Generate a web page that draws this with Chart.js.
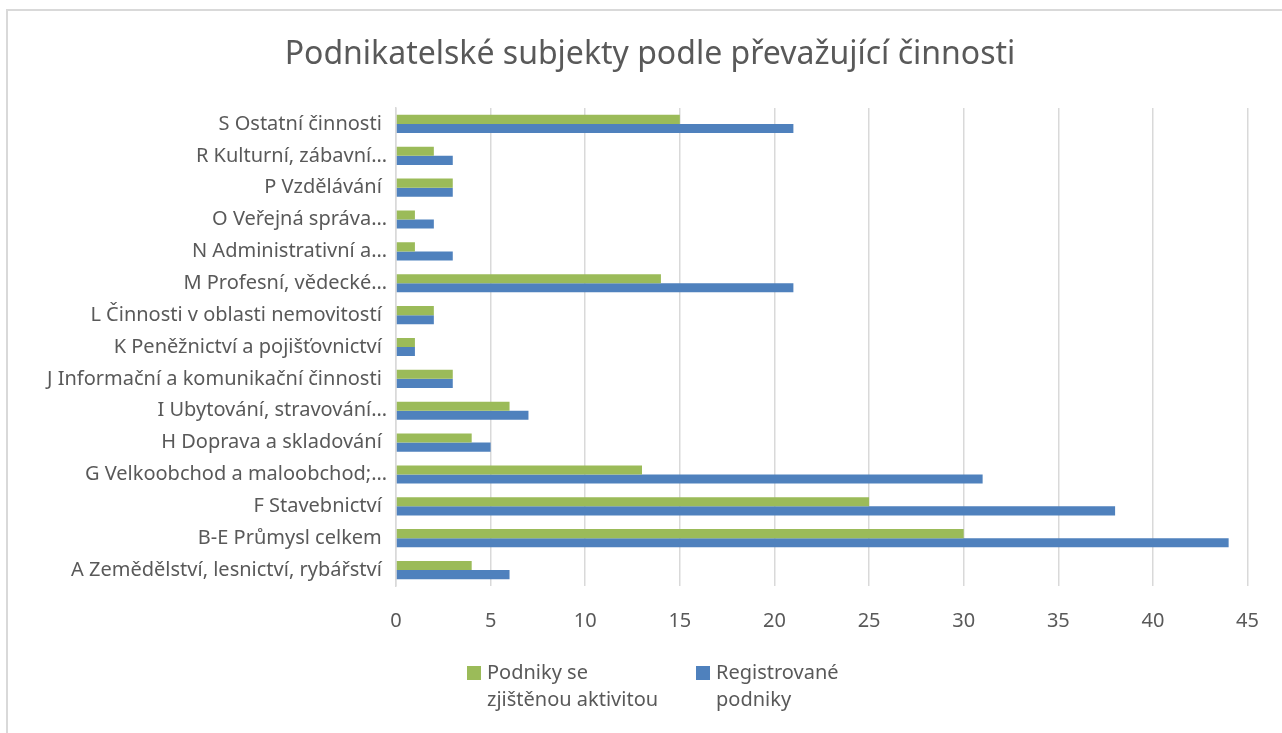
<!DOCTYPE html>
<html>
<head>
<meta charset="utf-8">
<script src="https://cdn.jsdelivr.net/npm/chart.js@4.4.1/dist/chart.umd.min.js"></script>
<style>
  html, body { margin: 0; padding: 0; background: #fff; }
  #wrap { position: relative; width: 1282px; height: 733px; overflow: hidden; }
  #frame {
    position: absolute; left: 6px; top: 9px; width: 1300px; height: 760px;
    border: 2px solid #d9d9d9; box-sizing: border-box; pointer-events: none;
  }
  canvas { position: absolute; left: 0; top: 0; }
</style>
</head>
<body>
<div id="wrap">
  <div id="frame"></div>
  <canvas id="chart" width="1282" height="733"></canvas>
</div>
<script>
"use strict";

// Kategorie (shora dolů, jak jsou v grafu)
const categories = [
  "S Ostatní činnosti ",
  "R Kulturní, zábavní…",
  "P Vzdělávání ",
  "O Veřejná správa…",
  "N Administrativní a…",
  "M Profesní, vědecké…",
  "L Činnosti v oblasti nemovitostí ",
  "K Peněžnictví a pojišťovnictví ",
  "J Informační a komunikační činnosti ",
  "I Ubytování, stravování…",
  "H Doprava a skladování ",
  "G Velkoobchod a maloobchod;…",
  "F Stavebnictví ",
  "B-E Průmysl celkem ",
  "A Zemědělství, lesnictví, rybářství ",
];

const activeCompanies = [15, 2, 3, 1, 1, 14, 2, 1, 3, 6, 4, 13, 25, 30, 4];
const registeredCompanies = [21, 3, 3, 2, 3, 21, 2, 1, 3, 7, 5, 31, 38, 44, 6];

const chartTitle = "Podnikatelské subjekty podle převažující činnosti";
const seriesNames = ["Podniky se zjištěnou aktivitou", "Registrované podniky"];
const legendLines = [
  ["Podniky se", "zjištěnou aktivitou"],
  ["Registrované", "podniky"],
];
const seriesColors = ["#9bbb59", "#4f81bd"];

const xTicks = [0, 5, 10, 15, 20, 25, 30, 35, 40, 45];

const FONT = "'Noto Sans', 'DejaVu Sans', sans-serif";
const TEXT = "#595959";

// Nadpis – vycentrovaný na celý rámeček grafu, ne na plochu bez okrajů
const centeredTitle = {
  id: "centeredTitle",
  afterDraw(chart) {
    const ctx = chart.ctx;
    ctx.save();
    ctx.font = "32px " + FONT;
    ctx.fillStyle = TEXT;
    ctx.textAlign = "center";
    ctx.textBaseline = "middle";
    ctx.fillText(chartTitle, 650, 55);
    ctx.restore();
  },
};

// Vlastní legenda – dvouřádkové popisky jako v Excelu
const twoLineLegend = {
  id: "twoLineLegend",
  afterDraw(chart) {
    const ctx = chart.ctx;
    const startX = [467, 696];
    const top = 666;
    ctx.save();
    ctx.font = "20px " + FONT;
    ctx.textBaseline = "middle";
    ctx.textAlign = "left";
    chart.data.datasets.forEach((ds, i) => {
      const x = startX[i];
      ctx.fillStyle = ds.backgroundColor;
      ctx.fillRect(x, top, 14, 14);
      ctx.fillStyle = TEXT;
      legendLines[i].forEach((line, j) => {
        ctx.fillText(line, x + 20, top + 7 + j * 27);
      });
    });
    ctx.restore();
  },
};

new Chart(document.getElementById("chart"), {
  type: "bar",
  data: {
    labels: categories,
    datasets: [
      {
        label: seriesNames[0],
        data: activeCompanies,
        backgroundColor: seriesColors[0],
        categoryPercentage: 0.57,
        barPercentage: 1.0,
      },
      {
        label: seriesNames[1],
        data: registeredCompanies,
        backgroundColor: seriesColors[1],
        categoryPercentage: 0.57,
        barPercentage: 1.0,
      },
    ],
  },
  options: {
    indexAxis: "y",
    responsive: false,
    animation: false,
    layout: { padding: { left: 0, right: 34, top: 108, bottom: 77 } },
    plugins: {
      legend: { display: false },
      tooltip: { enabled: false },
      title: { display: false },
    },
    scales: {
      x: {
        min: 0,
        max: 45,
        afterBuildTicks: (scale) => {
          scale.ticks = xTicks.map((v) => ({ value: v }));
        },
        grid: { color: "#d9d9d9", lineWidth: 1.5, drawTicks: false },
        border: { display: false },
        ticks: {
          color: TEXT,
          padding: 23,
          font: { family: FONT, size: 20 },
        },
      },
      y: {
        afterFit: (scale) => {
          scale.width = 396;
        },
        grid: { display: false, drawTicks: false },
        border: { display: true, color: "#d9d9d9", width: 1.5 },
        ticks: {
          color: TEXT,
          padding: 9,
          autoSkip: false,
          font: { family: FONT, size: 20 },
        },
      },
    },
  },
  plugins: [centeredTitle, twoLineLegend],
});
</script>
</body>
</html>
